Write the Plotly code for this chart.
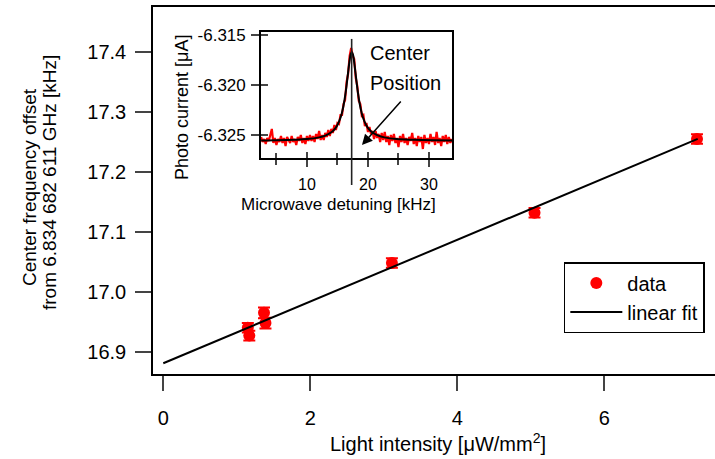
import plotly.graph_objects as go

# ---- main data ----
intensity = [1.15, 1.17, 1.37, 1.39, 3.11, 5.05, 7.26]
center_offset = [16.940, 16.927, 16.965, 16.948, 17.048, 17.132, 17.255]
offset_err = [0.008, 0.008, 0.009, 0.009, 0.008, 0.008, 0.008]

fit_x = [0.0, 7.27]
fit_y = [16.881, 17.255]

main_yticks = [16.9, 17.0, 17.1, 17.2, 17.3, 17.4]
main_xticks = [0, 2, 4, 6]

# ---- inset data ----
detuning = [2.5, 2.75, 3.0, 3.25, 3.5, 3.75, 4.0, 4.25, 4.5, 4.75, 5.0, 5.25, 5.5, 5.75,
            6.0, 6.25, 6.5, 6.75, 7.0, 7.25, 7.5, 7.75, 8.0, 8.25, 8.5, 8.75, 9.0, 9.25,
            9.5, 9.75, 10.0, 10.25, 10.5, 10.75, 11.0, 11.25, 11.5, 11.75, 12.0, 12.25,
            12.5, 12.75, 13.0, 13.25, 13.5, 13.75, 14.0, 14.25, 14.5, 14.75, 15.0, 15.25,
            15.5, 15.75, 16.0, 16.25, 16.5, 16.75, 17.0, 17.25, 17.5, 17.75, 18.0, 18.25,
            18.5, 18.75, 19.0, 19.25, 19.5, 19.75, 20.0, 20.25, 20.5, 20.75, 21.0, 21.25,
            21.5, 21.75, 22.0, 22.25, 22.5, 22.75, 23.0, 23.25, 23.5, 23.75, 24.0, 24.25,
            24.5, 24.75, 25.0, 25.25, 25.5, 25.75, 26.0, 26.25, 26.5, 26.75, 27.0, 27.25,
            27.5, 27.75, 28.0, 28.25, 28.5, 28.75, 29.0, 29.25, 29.5, 29.75, 30.0, 30.25,
            30.5, 30.75, 31.0, 31.25, 31.5, 31.75, 32.0, 32.25, 32.5, 32.75, 33.0, 33.25,
            33.5, 33.75]
photo_current = [-6.3252, -6.3257, -6.3254, -6.3259, -6.3253, -6.3256, -6.3250, -6.3244, -6.3258, -6.3253,
                 -6.3260, -6.3254, -6.3257, -6.3251, -6.3258, -6.3253, -6.3261, -6.3252, -6.3255, -6.3258,
                 -6.3251, -6.3257, -6.3254, -6.3260, -6.3252, -6.3256, -6.3250, -6.3258, -6.3253, -6.3259,
                 -6.3251, -6.3256, -6.3250, -6.3256, -6.3251, -6.3257, -6.3249, -6.3254, -6.3246, -6.3255,
                 -6.3250, -6.3255, -6.3248, -6.3252, -6.3245, -6.3251, -6.3244, -6.3248, -6.3240, -6.3245,
                 -6.3238, -6.3239, -6.3230, -6.3230, -6.3219, -6.3215, -6.3197, -6.3189, -6.3171, -6.3163,
                 -6.3171, -6.3174, -6.3193, -6.3201, -6.3216, -6.3219, -6.3231, -6.3230, -6.3241, -6.3238,
                 -6.3247, -6.3242, -6.3249, -6.3246, -6.3254, -6.3246, -6.3253, -6.3249, -6.3257, -6.3248,
                 -6.3255, -6.3247, -6.3257, -6.3251, -6.3260, -6.3250, -6.3256, -6.3249, -6.3258, -6.3253,
                 -6.3262, -6.3251, -6.3257, -6.3249, -6.3258, -6.3253, -6.3260, -6.3252, -6.3256, -6.3248,
                 -6.3259, -6.3253, -6.3261, -6.3251, -6.3257, -6.3252, -6.3264, -6.3250, -6.3258, -6.3253,
                 -6.3259, -6.3249, -6.3257, -6.3252, -6.3260, -6.3247, -6.3258, -6.3253, -6.3261, -6.3251,
                 -6.3257, -6.3250, -6.3259, -6.3252, -6.3258, -6.3254]

lor_x = [2.5, 5, 8, 10, 12, 13, 14, 14.5, 15, 15.5, 15.75, 16, 16.25, 16.5, 16.75, 17, 17.15,
         17.35, 17.55, 17.7, 17.95, 18.2, 18.45, 18.7, 18.95, 19.2, 19.7, 20.2, 20.7, 21.7,
         22.7, 24.7, 27.7, 30.7, 33.8]
lor_y = [-6.32555, -6.32553, -6.32548, -6.32541, -6.32524, -6.32507, -6.32473, -6.32445, -6.3240,
         -6.32328, -6.32274, -6.32205, -6.32115, -6.32003, -6.31874, -6.31752, -6.31698, -6.3167,
         -6.31698, -6.31752, -6.31874, -6.32003, -6.32115, -6.32205, -6.32274, -6.32328, -6.3240,
         -6.32445, -6.32473, -6.32507, -6.32524, -6.32541, -6.32548, -6.32553, -6.32556]
center_position = 17.33
inset_yticks = [-6.315, -6.320, -6.325]
inset_yticklabels = ["-6.315", "-6.320", "-6.325"]
inset_xticks = [10, 20, 30]
inset_minor_xticks = [5, 15, 25]

FONT = "Liberation Sans, Arial, sans-serif"
RED = "#ff0000"

fig = go.Figure()

# inset traces
fig.add_trace(go.Scatter(x=detuning, y=photo_current, mode="lines",
                         line=dict(color=RED, width=2.2), xaxis="x2", yaxis="y2",
                         showlegend=False, hoverinfo="skip"))
fig.add_trace(go.Scatter(x=lor_x, y=lor_y, mode="lines", line_shape="spline",
                         line=dict(color="black", width=2), xaxis="x2", yaxis="y2",
                         showlegend=False, hoverinfo="skip"))
# invisible trace carrying the inner-tick overlay axes
fig.add_trace(go.Scatter(x=[lor_x[0]], y=[lor_y[0]], mode="markers", marker=dict(opacity=0),
                         xaxis="x3", yaxis="y3", showlegend=False, hoverinfo="skip"))

# main traces
fig.add_trace(go.Scatter(x=intensity, y=center_offset, mode="markers", name="data",
                         marker=dict(color=RED, size=12, symbol="circle"),
                         error_y=dict(type="data", array=offset_err, color=RED,
                                      thickness=2, width=6)))
fig.add_trace(go.Scatter(x=fit_x, y=fit_y, mode="lines", name="linear fit",
                         line=dict(color="black", width=2)))

inset_dom_x = [0.192, 0.532]
inset_dom_y = [0.5886, 0.932]

fig.update_layout(
    width=715, height=459,
    margin=dict(l=153, r=0, t=7, b=85, autoexpand=False),
    plot_bgcolor="white", paper_bgcolor="white",
    font=dict(family=FONT, size=19, color="black"),
    xaxis=dict(range=[-0.14, 7.505], tickvals=main_xticks, ticks="outside", ticklen=15,
               tickwidth=1.5, showline=True, linewidth=1.5, linecolor="black", mirror=True,
               showgrid=False, zeroline=False, ticklabelstandoff=10,
               tickfont=dict(size=20)),
    yaxis=dict(range=[16.863, 17.475], tickvals=main_yticks, tickformat=".1f",
               ticks="outside", ticklen=16, tickwidth=1.5, showline=True, linewidth=1.5,
               linecolor="black", showgrid=False, zeroline=False, ticklabelstandoff=5,
               tickfont=dict(size=20)),
    xaxis2=dict(domain=inset_dom_x, anchor="y2", range=[2.46, 33.77], tickvals=inset_xticks,
                ticks="outside", ticklen=7, tickwidth=1.5,
                minor=dict(ticks="outside", ticklen=5, tickvals=inset_minor_xticks, tickwidth=1.5),
                showline=True, linewidth=1.5, linecolor="black", mirror=True,
                showgrid=False, zeroline=False, ticklabelstandoff=4,
                tickfont=dict(size=16)),
    yaxis2=dict(domain=inset_dom_y, anchor="x2", range=[-6.3273, -6.3147],
                tickvals=inset_yticks, ticktext=inset_yticklabels, ticks="outside", ticklen=8,
                tickwidth=1.5, showline=True, linewidth=1.5, linecolor="black", mirror=True,
                showgrid=False, zeroline=False, ticklabelstandoff=2,
                tickfont=dict(size=17)),
    xaxis3=dict(overlaying="x2", anchor="y3", range=[2.46, 33.77], tickvals=inset_xticks,
                ticks="inside", ticklen=6, tickwidth=1.5, showticklabels=False,
                minor=dict(ticks="inside", ticklen=5, tickvals=inset_minor_xticks, tickwidth=1.5),
                showline=False, showgrid=False, zeroline=False),
    yaxis3=dict(overlaying="y2", anchor="x3", range=[-6.3273, -6.3147],
                tickvals=inset_yticks, ticks="inside", ticklen=7, tickwidth=1.5,
                showticklabels=False, showline=False, showgrid=False, zeroline=False),
    legend=dict(x=0.731, y=0.305, xanchor="left", yanchor="top",
                bordercolor="black", borderwidth=1.5, bgcolor="white",
                font=dict(size=20), itemwidth=52, tracegroupgap=0),
    showlegend=True,
)

# vertical center-position line in the inset
fig.add_shape(type="line", xref="x2", yref="paper", x0=center_position, x1=center_position,
              y0=0.515, y1=0.913, line=dict(color="#222222", width=1.6))

ann = []
ann.append(dict(text="Center frequency offset", xref="paper", yref="paper",
                x=(29 - 153) / 562, y=(374 - 187) / 367, textangle=-90,
                showarrow=False, font=dict(size=19), xanchor="center", yanchor="middle"))
ann.append(dict(text="from 6.834 682 611 GHz [kHz]", xref="paper", yref="paper",
                x=(49 - 153) / 562, y=(374 - 183) / 367, textangle=-90,
                showarrow=False, font=dict(size=19), xanchor="center", yanchor="middle"))
ann.append(dict(text="Light intensity [μW/mm<sup>2</sup>]", xref="paper", yref="paper",
                x=(438 - 153) / 562, y=(374 - 442) / 367, showarrow=False, font=dict(size=20),
                xanchor="center", yanchor="middle"))
ann.append(dict(text="Photo current [μA]", xref="paper", yref="paper",
                x=(182 - 153) / 562, y=(374 - 108) / 367,
                textangle=-90, showarrow=False, font=dict(size=18),
                xanchor="center", yanchor="middle"))
ann.append(dict(text="Microwave detuning [kHz]", xref="paper", yref="paper",
                x=(338 - 153) / 562, y=(374 - 204) / 367, showarrow=False, font=dict(size=17),
                xanchor="center", yanchor="middle"))
ann.append(dict(text="Center", xref="paper", yref="paper", x=(368 - 153) / 562,
                y=(374 - 53) / 367, showarrow=False, font=dict(size=20),
                xanchor="left", yanchor="middle"))
ann.append(dict(text="Position", xref="paper", yref="paper", x=(368 - 153) / 562,
                y=(374 - 83) / 367, showarrow=False, font=dict(size=20),
                xanchor="left", yanchor="middle"))
ann.append(dict(text="", xref="x2", yref="y2", x=19.02, y=-6.3260,
                axref="x2", ayref="y2", ax=25.6, ay=-6.3215, showarrow=True,
                arrowhead=2, arrowsize=1.4, arrowwidth=1.5, arrowcolor="black"))
fig.update_layout(annotations=ann)

fig.write_html("out.html", config={"displayModeBar": False},
               post_script="document.body.style.margin='0';document.body.style.padding='0';")
